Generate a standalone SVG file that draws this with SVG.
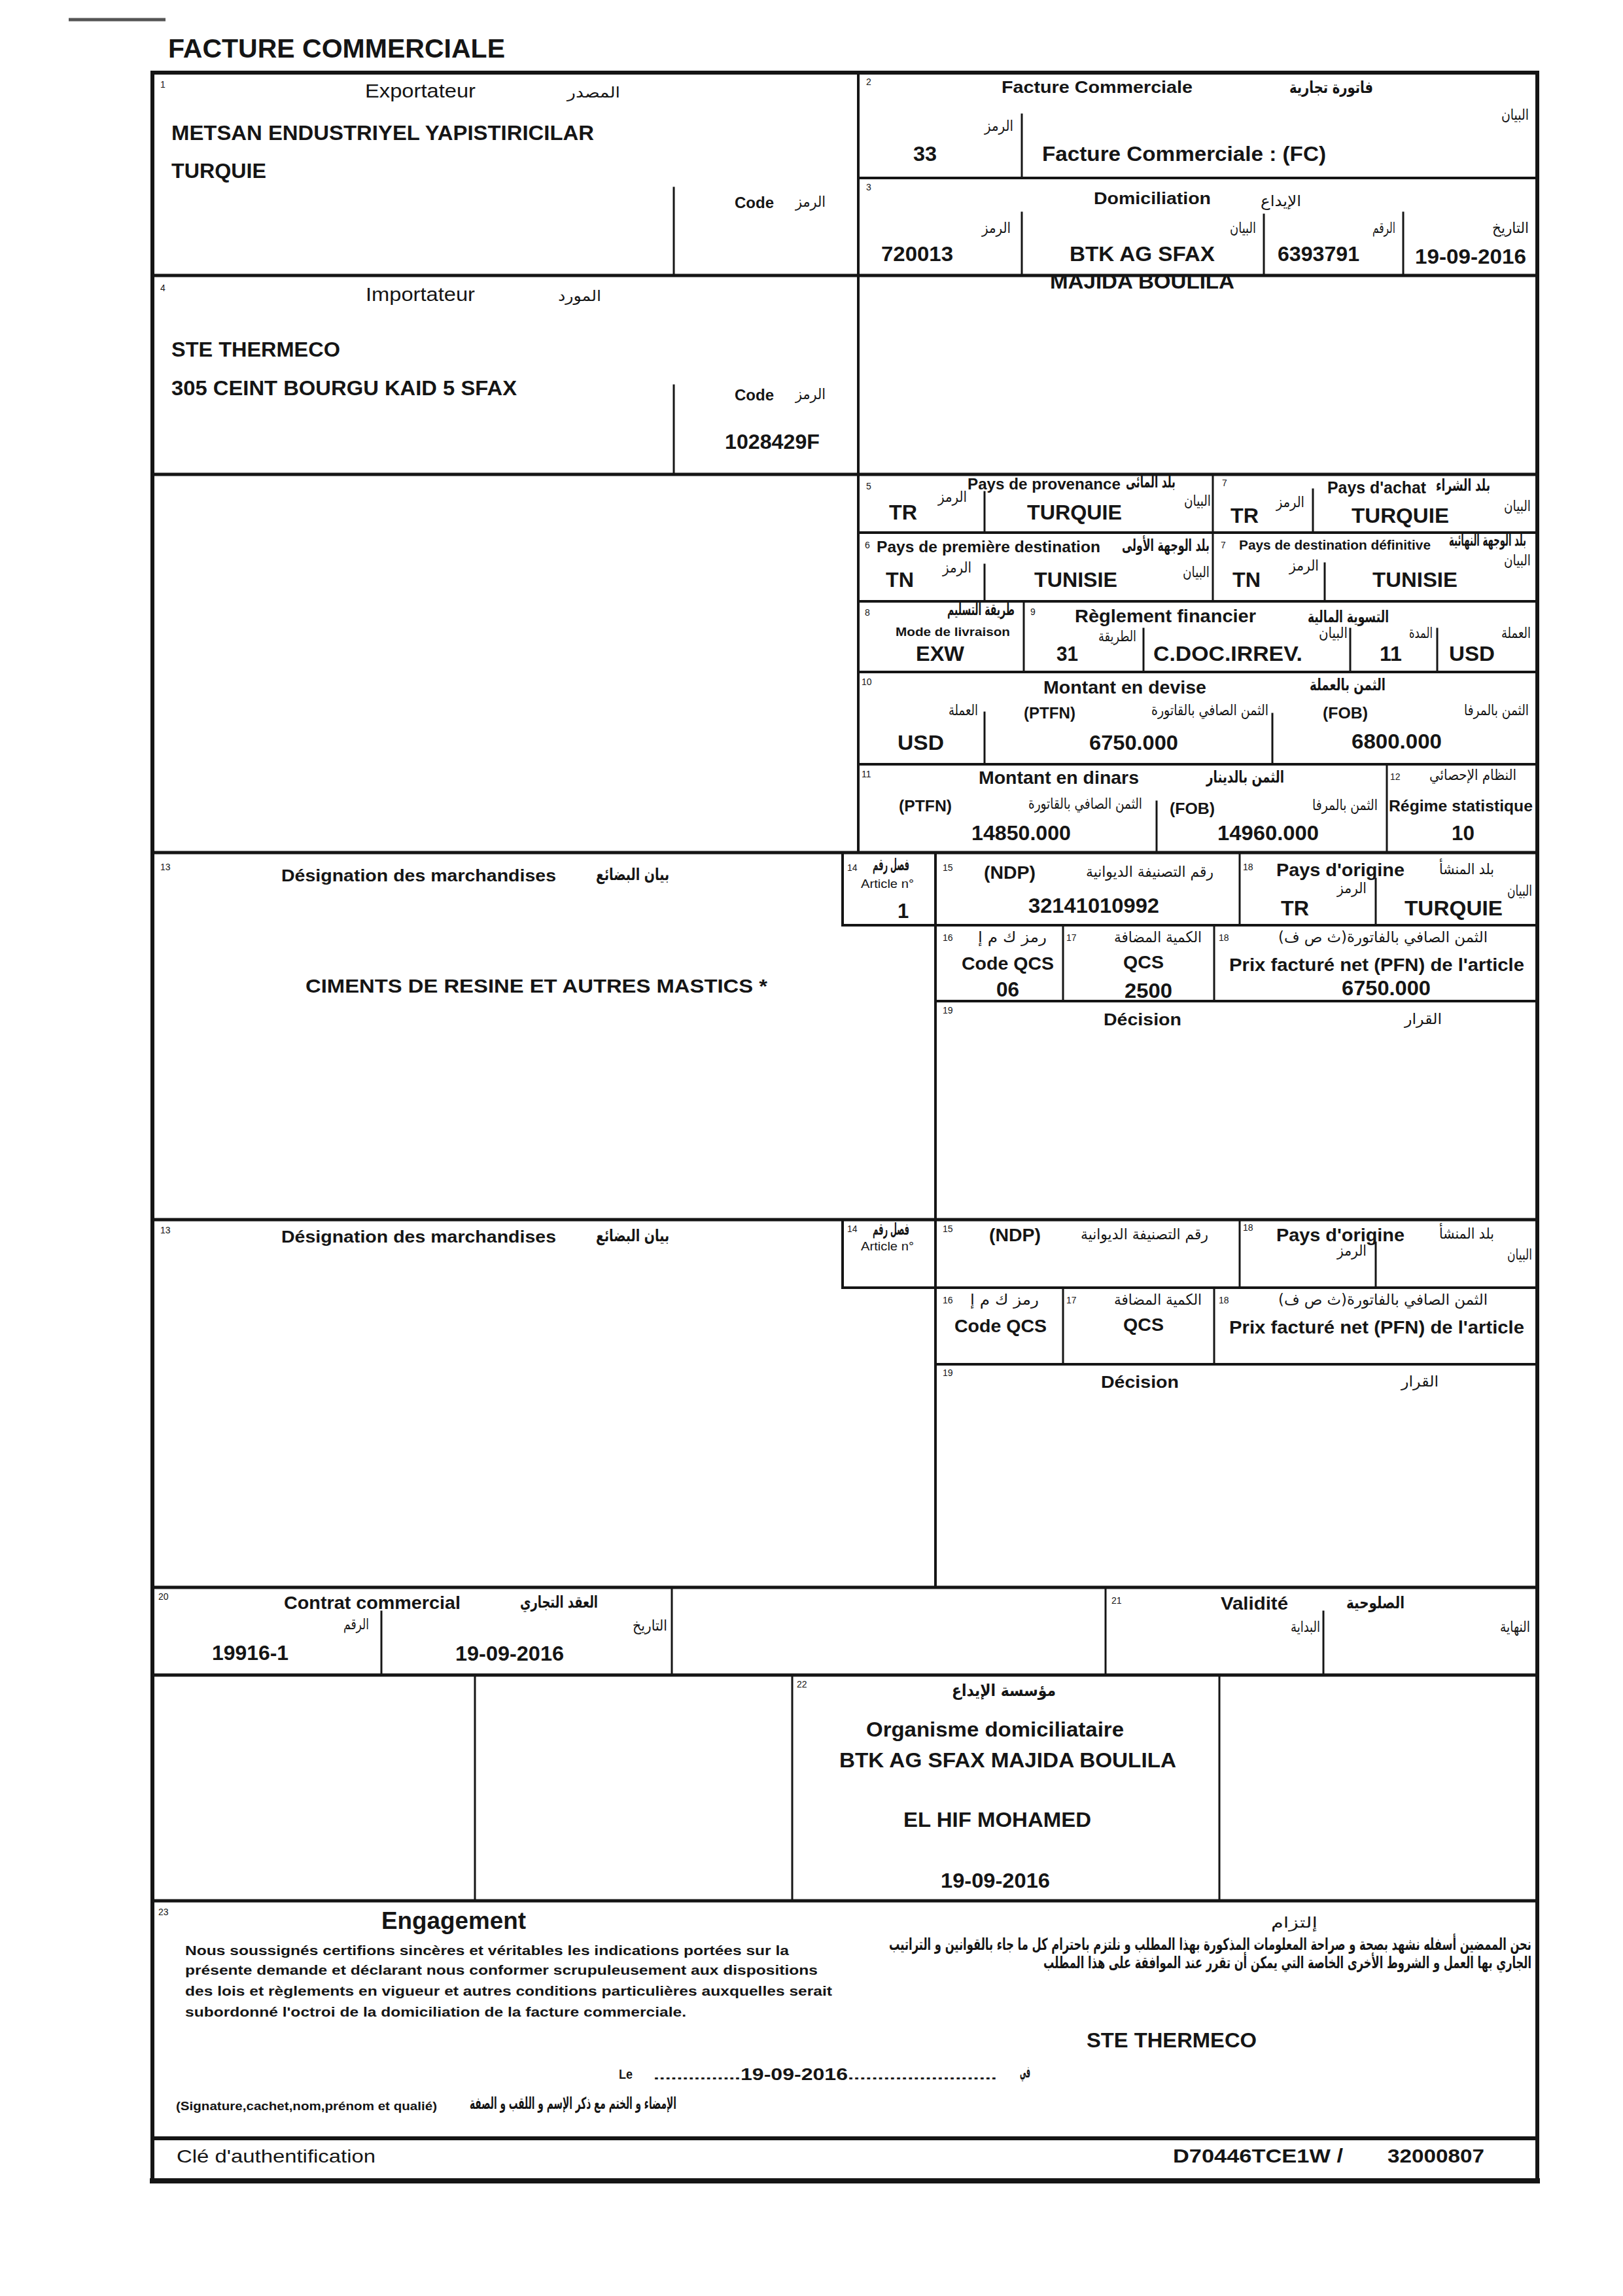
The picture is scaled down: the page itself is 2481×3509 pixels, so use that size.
<svg xmlns="http://www.w3.org/2000/svg" width="2481" height="3509" viewBox="0 0 2481 3509">
<style>
.ln{stroke:#151515;fill:none;stroke-linecap:square}
.w8{stroke-width:8}.w6{stroke-width:6}.w5{stroke-width:5}.w4{stroke-width:4}.w3{stroke-width:3}
text{font-family:"Liberation Sans",Arial,sans-serif;fill:#151515}
.b{font-weight:bold}
.n{font-size:14px}
.v{font-size:31px;font-weight:bold}
.lb{font-size:26px;font-weight:bold}
.ar{font-family:"DejaVu Sans","Noto Sans",sans-serif;text-anchor:end;font-size:23px}
.arb{font-family:"DejaVu Sans","Noto Sans",sans-serif;text-anchor:end;font-size:25px;font-weight:bold}
</style>
<rect width="2481" height="3509" fill="#ffffff"/>
<line x1="105" y1="30" x2="253" y2="30" stroke="#555" stroke-width="5"/>
<text x="257" y="88" class="b" font-size="40" textLength="515" lengthAdjust="spacingAndGlyphs">FACTURE COMMERCIALE</text>

<g id="rules">
<rect x="233" y="111" width="2117" height="3222" class="ln w6"/>
<line x1="233" y1="3333" x2="2350" y2="3333" class="ln w8"/>
<line x1="1312" y1="111" x2="1312" y2="1303" class="ln w4"/>
<line x1="233" y1="421" x2="2350" y2="421" class="ln w5"/>
<line x1="233" y1="725" x2="2350" y2="725" class="ln w5"/>
<line x1="1030" y1="287" x2="1030" y2="421" class="ln w3"/>
<line x1="1030" y1="589" x2="1030" y2="725" class="ln w3"/>
<line x1="1312" y1="272" x2="2350" y2="272" class="ln w4"/>
<line x1="1562" y1="175" x2="1562" y2="272" class="ln w3"/>
<line x1="1562" y1="325" x2="1562" y2="421" class="ln w3"/>
<line x1="1932" y1="328" x2="1932" y2="421" class="ln w3"/>
<line x1="2145" y1="325" x2="2145" y2="421" class="ln w3"/>
<line x1="1854" y1="725" x2="1854" y2="919" class="ln w3"/>
<line x1="1505" y1="752" x2="1505" y2="814" class="ln w3"/>
<line x1="2007" y1="748" x2="2007" y2="814" class="ln w3"/>
<line x1="1312" y1="814" x2="2350" y2="814" class="ln w4"/>
<line x1="1505" y1="863" x2="1505" y2="919" class="ln w3"/>
<line x1="2025" y1="861" x2="2025" y2="919" class="ln w3"/>
<line x1="1312" y1="919" x2="2350" y2="919" class="ln w4"/>
<line x1="1565" y1="919" x2="1565" y2="1027" class="ln w3"/>
<line x1="1748" y1="961" x2="1748" y2="1027" class="ln w3"/>
<line x1="2064" y1="961" x2="2064" y2="1027" class="ln w3"/>
<line x1="2197" y1="961" x2="2197" y2="1027" class="ln w3"/>
<line x1="1312" y1="1027" x2="2350" y2="1027" class="ln w4"/>
<line x1="1505" y1="1089" x2="1505" y2="1168" class="ln w3"/>
<line x1="1945" y1="1091" x2="1945" y2="1168" class="ln w3"/>
<line x1="1312" y1="1168" x2="2350" y2="1168" class="ln w4"/>
<line x1="2120" y1="1168" x2="2120" y2="1303" class="ln w3"/>
<line x1="1768" y1="1225" x2="1768" y2="1303" class="ln w3"/>
<line x1="233" y1="1303" x2="2350" y2="1303" class="ln w5"/>
<line x1="1288" y1="1303" x2="1288" y2="1414" class="ln w4"/>
<line x1="1430" y1="1303" x2="1430" y2="2426" class="ln w4"/>
<line x1="1288" y1="1414" x2="2350" y2="1414" class="ln w4"/>
<line x1="1895" y1="1303" x2="1895" y2="1414" class="ln w3"/>
<line x1="2103" y1="1343" x2="2103" y2="1414" class="ln w3"/>
<line x1="1625" y1="1414" x2="1625" y2="1530" class="ln w3"/>
<line x1="1856" y1="1414" x2="1856" y2="1530" class="ln w3"/>
<line x1="1430" y1="1530" x2="2350" y2="1530" class="ln w4"/>
<line x1="233" y1="1864" x2="2350" y2="1864" class="ln w5"/>
<line x1="1288" y1="1864" x2="1288" y2="1968" class="ln w4"/>
<line x1="1288" y1="1968" x2="2350" y2="1968" class="ln w4"/>
<line x1="1895" y1="1864" x2="1895" y2="1968" class="ln w3"/>
<line x1="2103" y1="1899" x2="2103" y2="1968" class="ln w3"/>
<line x1="1625" y1="1968" x2="1625" y2="2085" class="ln w3"/>
<line x1="1856" y1="1968" x2="1856" y2="2085" class="ln w3"/>
<line x1="1430" y1="2085" x2="2350" y2="2085" class="ln w4"/>
<line x1="233" y1="2426" x2="2350" y2="2426" class="ln w5"/>
<line x1="583" y1="2463" x2="583" y2="2560" class="ln w3"/>
<line x1="1027" y1="2426" x2="1027" y2="2560" class="ln w3"/>
<line x1="1690" y1="2426" x2="1690" y2="2560" class="ln w3"/>
<line x1="2023" y1="2463" x2="2023" y2="2560" class="ln w3"/>
<line x1="233" y1="2560" x2="2350" y2="2560" class="ln w5"/>
<line x1="726" y1="2560" x2="726" y2="2905" class="ln w3"/>
<line x1="1211" y1="2560" x2="1211" y2="2905" class="ln w3"/>
<line x1="1864" y1="2560" x2="1864" y2="2905" class="ln w3"/>
<line x1="233" y1="2905" x2="2350" y2="2905" class="ln w5"/>
<line x1="233" y1="3268" x2="2350" y2="3268" class="ln w6"/>
</g>

<g id="box1">
<text x="245" y="134" class="n">1</text>
<text x="558" y="149" font-size="30" textLength="169" lengthAdjust="spacingAndGlyphs">Exportateur</text>
<text x="948" y="149" class="ar" font-size="32" textLength="81" lengthAdjust="spacingAndGlyphs">المصدر</text>
<text x="262" y="214" class="v" textLength="646" lengthAdjust="spacingAndGlyphs">METSAN ENDUSTRIYEL YAPISTIRICILAR</text>
<text x="262" y="272" class="v" textLength="145" lengthAdjust="spacingAndGlyphs">TURQUIE</text>
<text x="1123" y="318" class="b" font-size="23" textLength="60" lengthAdjust="spacingAndGlyphs">Code</text>
<text x="1262" y="316" class="ar" textLength="46" lengthAdjust="spacingAndGlyphs">الرمز</text>
</g>

<g id="box4">
<text x="245" y="445" class="n">4</text>
<text x="559" y="460" font-size="30" textLength="167" lengthAdjust="spacingAndGlyphs">Importateur</text>
<text x="919" y="460" class="ar" font-size="32" textLength="66" lengthAdjust="spacingAndGlyphs">المورد</text>
<text x="262" y="545" class="v" textLength="258" lengthAdjust="spacingAndGlyphs">STE THERMECO</text>
<text x="262" y="604" class="v" textLength="528" lengthAdjust="spacingAndGlyphs">305 CEINT BOURGU KAID 5 SFAX</text>
<text x="1123" y="612" class="b" font-size="23" textLength="60" lengthAdjust="spacingAndGlyphs">Code</text>
<text x="1262" y="610" class="ar" textLength="46" lengthAdjust="spacingAndGlyphs">الرمز</text>
<text x="1108" y="686" class="v" textLength="145" lengthAdjust="spacingAndGlyphs">1028429F</text>
</g>

<g id="box2">
<text x="1324" y="130" class="n">2</text>
<text x="1531" y="142" class="lb" textLength="292" lengthAdjust="spacingAndGlyphs">Facture Commerciale</text>
<text x="2099" y="142" class="arb" font-size="28" textLength="128" lengthAdjust="spacingAndGlyphs">فاتورة تجارية</text>
<text x="2337" y="183" class="ar" textLength="42" lengthAdjust="spacingAndGlyphs">البيان</text>
<text x="1549" y="200" class="ar" textLength="44" lengthAdjust="spacingAndGlyphs">الرمز</text>
<text x="1396" y="246" class="v" textLength="36" lengthAdjust="spacingAndGlyphs">33</text>
<text x="1593" y="246" class="v" textLength="434" lengthAdjust="spacingAndGlyphs">Facture Commerciale : (FC)</text>
</g>

<g id="box3">
<text x="1324" y="291" class="n">3</text>
<text x="1672" y="312" class="lb" textLength="179" lengthAdjust="spacingAndGlyphs">Domiciliation</text>
<text x="1989" y="315" class="ar" font-size="28" textLength="62" lengthAdjust="spacingAndGlyphs">الإيداع</text>
<text x="1545" y="356" class="ar" textLength="44" lengthAdjust="spacingAndGlyphs">الرمز</text>
<text x="1920" y="356" class="ar" textLength="40" lengthAdjust="spacingAndGlyphs">البيان</text>
<text x="2133" y="356" class="ar" textLength="35" lengthAdjust="spacingAndGlyphs">الرقم</text>
<text x="2337" y="356" class="ar" textLength="56" lengthAdjust="spacingAndGlyphs">التاريخ</text>
<text x="1347" y="399" class="v" textLength="110" lengthAdjust="spacingAndGlyphs">720013</text>
<text x="1635" y="399" class="v" textLength="222" lengthAdjust="spacingAndGlyphs">BTK AG SFAX</text>
<text x="1953" y="399" class="v" textLength="125" lengthAdjust="spacingAndGlyphs">6393791</text>
<text x="2163" y="403" class="v" textLength="170" lengthAdjust="spacingAndGlyphs">19-09-2016</text>
<text x="1605" y="441" class="v" textLength="282" lengthAdjust="spacingAndGlyphs">MAJIDA BOULILA</text>
</g>

<g id="box5">
<text x="1324" y="748" class="n">5</text>
<text x="1479" y="748" class="b" font-size="24" textLength="234" lengthAdjust="spacingAndGlyphs">Pays de provenance</text>
<text x="1797" y="745" class="arb" font-size="21" textLength="76" lengthAdjust="spacingAndGlyphs">بلد المائى</text>
<text x="1478" y="767" class="ar" textLength="44" lengthAdjust="spacingAndGlyphs">الرمز</text>
<text x="1851" y="773" class="ar" textLength="41" lengthAdjust="spacingAndGlyphs">البيان</text>
<text x="1359" y="794" class="v" textLength="43" lengthAdjust="spacingAndGlyphs">TR</text>
<text x="1570" y="794" class="v" textLength="145" lengthAdjust="spacingAndGlyphs">TURQUIE</text>
</g>

<g id="box7a">
<text x="1868" y="743" class="n">7</text>
<text x="2029" y="754" class="b" font-size="25" textLength="151" lengthAdjust="spacingAndGlyphs">Pays d'achat</text>
<text x="2278" y="750" class="arb" font-size="21" textLength="83" lengthAdjust="spacingAndGlyphs">بلد الشراء</text>
<text x="1994" y="775" class="ar" textLength="43" lengthAdjust="spacingAndGlyphs">الرمز</text>
<text x="2340" y="781" class="ar" textLength="41" lengthAdjust="spacingAndGlyphs">البيان</text>
<text x="1881" y="799" class="v" textLength="43" lengthAdjust="spacingAndGlyphs">TR</text>
<text x="2066" y="799" class="v" textLength="149" lengthAdjust="spacingAndGlyphs">TURQUIE</text>
</g>

<g id="box6">
<text x="1322" y="838" class="n">6</text>
<text x="1340" y="844" class="b" font-size="24" textLength="342" lengthAdjust="spacingAndGlyphs">Pays de première destination</text>
<text x="1849" y="842" class="arb" font-size="21" textLength="134" lengthAdjust="spacingAndGlyphs">بلد الوجهة الأولى</text>
<text x="1485" y="875" class="ar" textLength="44" lengthAdjust="spacingAndGlyphs">الرمز</text>
<text x="1849" y="882" class="ar" textLength="41" lengthAdjust="spacingAndGlyphs">البيان</text>
<text x="1354" y="897" class="v" textLength="43" lengthAdjust="spacingAndGlyphs">TN</text>
<text x="1581" y="897" class="v" textLength="127" lengthAdjust="spacingAndGlyphs">TUNISIE</text>
</g>

<g id="box7b">
<text x="1866" y="838" class="n">7</text>
<text x="1894" y="840" class="b" font-size="20" textLength="293" lengthAdjust="spacingAndGlyphs">Pays de destination définitive</text>
<text x="2333" y="834" class="arb" font-size="18" textLength="118" lengthAdjust="spacingAndGlyphs">بلد الوجهة النهائية</text>
<text x="2340" y="864" class="ar" textLength="41" lengthAdjust="spacingAndGlyphs">البيان</text>
<text x="2016" y="872" class="ar" textLength="45" lengthAdjust="spacingAndGlyphs">الرمز</text>
<text x="1884" y="897" class="v" textLength="43" lengthAdjust="spacingAndGlyphs">TN</text>
<text x="2098" y="897" class="v" textLength="130" lengthAdjust="spacingAndGlyphs">TUNISIE</text>
</g>

<g id="box8">
<text x="1322" y="941" class="n">8</text>
<text x="1551" y="940" class="arb" font-size="21" textLength="103" lengthAdjust="spacingAndGlyphs">طريقة التسليم</text>
<text x="1369" y="972" class="b" font-size="19" textLength="175" lengthAdjust="spacingAndGlyphs">Mode de livraison</text>
<text x="1400" y="1010" class="v" textLength="74" lengthAdjust="spacingAndGlyphs">EXW</text>
</g>

<g id="box9">
<text x="1575" y="940" class="n">9</text>
<text x="1643" y="951" class="b" font-size="28" textLength="277" lengthAdjust="spacingAndGlyphs">Règlement financier</text>
<text x="2123" y="951" class="arb" font-size="27" textLength="124" lengthAdjust="spacingAndGlyphs">التسوية المالية</text>
<text x="1737" y="980" class="ar" textLength="58" lengthAdjust="spacingAndGlyphs">الطريقة</text>
<text x="2060" y="975" class="ar" textLength="44" lengthAdjust="spacingAndGlyphs">البيان</text>
<text x="2190" y="975" class="ar" textLength="36" lengthAdjust="spacingAndGlyphs">المدة</text>
<text x="2340" y="975" class="ar" textLength="45" lengthAdjust="spacingAndGlyphs">العملة</text>
<text x="1615" y="1010" class="v" textLength="33" lengthAdjust="spacingAndGlyphs">31</text>
<text x="1763" y="1010" class="v" textLength="228" lengthAdjust="spacingAndGlyphs">C.DOC.IRREV.</text>
<text x="2109" y="1010" class="v" textLength="34" lengthAdjust="spacingAndGlyphs">11</text>
<text x="2215" y="1010" class="v" textLength="70" lengthAdjust="spacingAndGlyphs">USD</text>
</g>

<g id="box10">
<text x="1317" y="1047" class="n">10</text>
<text x="1595" y="1060" class="b" font-size="28" textLength="249" lengthAdjust="spacingAndGlyphs">Montant en devise</text>
<text x="2118" y="1055" class="arb" font-size="27" textLength="116" lengthAdjust="spacingAndGlyphs">الثمن بالعملة</text>
<text x="1495" y="1093" class="ar" textLength="45" lengthAdjust="spacingAndGlyphs">العملة</text>
<text x="1565" y="1098" class="b" font-size="24" textLength="79" lengthAdjust="spacingAndGlyphs">(PTFN)</text>
<text x="1939" y="1093" class="ar" textLength="179" lengthAdjust="spacingAndGlyphs">الثمن الصافي بالقاتورة</text>
<text x="2022" y="1098" class="b" font-size="24" textLength="69" lengthAdjust="spacingAndGlyphs">(FOB)</text>
<text x="2337" y="1093" class="ar" textLength="99" lengthAdjust="spacingAndGlyphs">الثمن بالمرفا</text>
<text x="1372" y="1146" class="v" textLength="71" lengthAdjust="spacingAndGlyphs">USD</text>
<text x="1665" y="1146" class="v" textLength="136" lengthAdjust="spacingAndGlyphs">6750.000</text>
<text x="2066" y="1144" class="v" textLength="138" lengthAdjust="spacingAndGlyphs">6800.000</text>
</g>

<g id="box11">
<text x="1317" y="1188" class="n">11</text>
<text x="1496" y="1198" class="b" font-size="28" textLength="245" lengthAdjust="spacingAndGlyphs">Montant en dinars</text>
<text x="1963" y="1196" class="arb" font-size="27" textLength="119" lengthAdjust="spacingAndGlyphs">الثمن بالدينار</text>
<text x="1374" y="1240" class="b" font-size="24" textLength="81" lengthAdjust="spacingAndGlyphs">(PTFN)</text>
<text x="1746" y="1236" class="ar" textLength="174" lengthAdjust="spacingAndGlyphs">الثمن الصافي بالقاتورة</text>
<text x="1788" y="1244" class="b" font-size="24" textLength="69" lengthAdjust="spacingAndGlyphs">(FOB)</text>
<text x="2106" y="1238" class="ar" textLength="100" lengthAdjust="spacingAndGlyphs">الثمن بالمرفا</text>
<text x="1485" y="1284" class="v" textLength="152" lengthAdjust="spacingAndGlyphs">14850.000</text>
<text x="1861" y="1284" class="v" textLength="155" lengthAdjust="spacingAndGlyphs">14960.000</text>
</g>

<g id="box12">
<text x="2125" y="1192" class="n">12</text>
<text x="2318" y="1192" class="ar" textLength="133" lengthAdjust="spacingAndGlyphs">النظام الإحصائي</text>
<text x="2123" y="1240" class="b" font-size="24" textLength="220" lengthAdjust="spacingAndGlyphs">Régime statistique</text>
<text x="2219" y="1284" class="v" textLength="35" lengthAdjust="spacingAndGlyphs">10</text>
</g>

<g id="box13a">
<text x="245" y="1330" class="n">13</text>
<text x="430" y="1347" class="lb" textLength="420" lengthAdjust="spacingAndGlyphs">Désignation des marchandises</text>
<text x="1023" y="1345" class="arb" font-size="26" textLength="112" lengthAdjust="spacingAndGlyphs">بيان البضائع</text>
<text x="467" y="1517" class="b" font-size="30" textLength="706" lengthAdjust="spacingAndGlyphs">CIMENTS DE RESINE ET AUTRES MASTICS *</text>
</g>

<g id="box14a">
<text x="1295" y="1331" class="n">14</text>
<text x="1390" y="1330" class="arb" font-size="18" textLength="56" lengthAdjust="spacingAndGlyphs">فصل رقم</text>
<text x="1316" y="1357" font-size="19" textLength="81" lengthAdjust="spacingAndGlyphs">Article n°</text>
<text x="1372" y="1403" class="v">1</text>
</g>

<g id="box15a">
<text x="1441" y="1331" class="n">15</text>
<text x="1504" y="1343" class="b" font-size="27" textLength="79" lengthAdjust="spacingAndGlyphs">(NDP)</text>
<text x="1855" y="1340" class="ar" font-size="25" textLength="195" lengthAdjust="spacingAndGlyphs">رقم التصنيفة الديوانية</text>
<text x="1572" y="1395" class="v" textLength="200" lengthAdjust="spacingAndGlyphs">32141010992</text>
</g>

<g id="box18a">
<text x="1900" y="1330" class="n">18</text>
<text x="1951" y="1339" class="b" font-size="28" textLength="196" lengthAdjust="spacingAndGlyphs">Pays d'origine</text>
<text x="2284" y="1336" class="ar" font-size="26" textLength="84" lengthAdjust="spacingAndGlyphs">بلد المنشأ</text>
<text x="2089" y="1365" class="ar" textLength="45" lengthAdjust="spacingAndGlyphs">الرمز</text>
<text x="2342" y="1369" class="ar" textLength="38" lengthAdjust="spacingAndGlyphs">البيان</text>
<text x="1958" y="1399" class="v" textLength="43" lengthAdjust="spacingAndGlyphs">TR</text>
<text x="2147" y="1399" class="v" textLength="150" lengthAdjust="spacingAndGlyphs">TURQUIE</text>
</g>

<g id="box16a">
<text x="1441" y="1438" class="n">16</text>
<text x="1600" y="1440" class="ar" font-size="25" textLength="105" lengthAdjust="spacingAndGlyphs">رمز ك م إ</text>
<text x="1470" y="1482" class="b" font-size="28" textLength="141" lengthAdjust="spacingAndGlyphs">Code QCS</text>
<text x="1523" y="1523" class="v" textLength="35" lengthAdjust="spacingAndGlyphs">06</text>
</g>

<g id="box17a">
<text x="1630" y="1438" class="n">17</text>
<text x="1837" y="1440" class="ar" font-size="25" textLength="134" lengthAdjust="spacingAndGlyphs">الكمية المضافة</text>
<text x="1717" y="1480" class="b" font-size="28" textLength="62" lengthAdjust="spacingAndGlyphs">QCS</text>
<text x="1719" y="1525" class="v" textLength="73" lengthAdjust="spacingAndGlyphs">2500</text>
</g>

<g id="box18pa">
<text x="1863" y="1438" class="n">18</text>
<text x="2274" y="1440" class="ar" font-size="25" textLength="320" lengthAdjust="spacingAndGlyphs">الثمن الصافي بالفاتورة(ث ص ف)&#x200F;</text>
<text x="1879" y="1484" class="b" font-size="28" textLength="451" lengthAdjust="spacingAndGlyphs">Prix facturé net (PFN) de l'article</text>
<text x="2051" y="1521" class="v" textLength="136" lengthAdjust="spacingAndGlyphs">6750.000</text>
</g>

<g id="box19a">
<text x="1441" y="1549" class="n">19</text>
<text x="1687" y="1567" class="lb" textLength="119" lengthAdjust="spacingAndGlyphs">Décision</text>
<text x="2204" y="1565" class="ar" font-size="26" textLength="57" lengthAdjust="spacingAndGlyphs">القرار</text>
</g>

<g id="box13b">
<text x="245" y="1885" class="n">13</text>
<text x="430" y="1899" class="lb" textLength="420" lengthAdjust="spacingAndGlyphs">Désignation des marchandises</text>
<text x="1023" y="1897" class="arb" font-size="26" textLength="112" lengthAdjust="spacingAndGlyphs">بيان البضائع</text>
</g>

<g id="box14b">
<text x="1295" y="1883" class="n">14</text>
<text x="1390" y="1887" class="arb" font-size="18" textLength="56" lengthAdjust="spacingAndGlyphs">فصل رقم</text>
<text x="1316" y="1911" font-size="19" textLength="81" lengthAdjust="spacingAndGlyphs">Article n°</text>
</g>

<g id="box15b">
<text x="1441" y="1883" class="n">15</text>
<text x="1512" y="1897" class="b" font-size="27" textLength="79" lengthAdjust="spacingAndGlyphs">(NDP)</text>
<text x="1847" y="1894" class="ar" font-size="25" textLength="195" lengthAdjust="spacingAndGlyphs">رقم التصنيفة الديوانية</text>
</g>

<g id="box18b">
<text x="1900" y="1881" class="n">18</text>
<text x="1951" y="1897" class="b" font-size="28" textLength="196" lengthAdjust="spacingAndGlyphs">Pays d'origine</text>
<text x="2284" y="1893" class="ar" font-size="26" textLength="84" lengthAdjust="spacingAndGlyphs">بلد المنشأ</text>
<text x="2089" y="1919" class="ar" textLength="45" lengthAdjust="spacingAndGlyphs">الرمز</text>
<text x="2342" y="1925" class="ar" textLength="38" lengthAdjust="spacingAndGlyphs">البيان</text>
</g>

<g id="box16b">
<text x="1441" y="1992" class="n">16</text>
<text x="1588" y="1994" class="ar" font-size="25" textLength="105" lengthAdjust="spacingAndGlyphs">رمز ك م إ</text>
<text x="1459" y="2036" class="b" font-size="28" textLength="141" lengthAdjust="spacingAndGlyphs">Code QCS</text>
</g>

<g id="box17b">
<text x="1630" y="1992" class="n">17</text>
<text x="1837" y="1994" class="ar" font-size="25" textLength="134" lengthAdjust="spacingAndGlyphs">الكمية المضافة</text>
<text x="1717" y="2034" class="b" font-size="28" textLength="62" lengthAdjust="spacingAndGlyphs">QCS</text>
</g>

<g id="box18pb">
<text x="1863" y="1992" class="n">18</text>
<text x="2274" y="1994" class="ar" font-size="25" textLength="320" lengthAdjust="spacingAndGlyphs">الثمن الصافي بالفاتورة(ث ص ف)&#x200F;</text>
<text x="1879" y="2038" class="b" font-size="28" textLength="451" lengthAdjust="spacingAndGlyphs">Prix facturé net (PFN) de l'article</text>
</g>

<g id="box19b">
<text x="1441" y="2103" class="n">19</text>
<text x="1683" y="2121" class="lb" textLength="119" lengthAdjust="spacingAndGlyphs">Décision</text>
<text x="2199" y="2119" class="ar" font-size="26" textLength="57" lengthAdjust="spacingAndGlyphs">القرار</text>
</g>

<g id="box20">
<text x="242" y="2445" class="n">20</text>
<text x="434" y="2459" class="b" font-size="28" textLength="270" lengthAdjust="spacingAndGlyphs">Contrat commercial</text>
<text x="914" y="2457" class="arb" font-size="27" textLength="119" lengthAdjust="spacingAndGlyphs">العقد التجاري</text>
<text x="564" y="2490" class="ar" textLength="39" lengthAdjust="spacingAndGlyphs">الرقم</text>
<text x="1020" y="2492" class="ar" textLength="53" lengthAdjust="spacingAndGlyphs">التاريخ</text>
<text x="324" y="2537" class="v" textLength="117" lengthAdjust="spacingAndGlyphs">19916-1</text>
<text x="696" y="2538" class="v" textLength="166" lengthAdjust="spacingAndGlyphs">19-09-2016</text>
</g>

<g id="box21">
<text x="1699" y="2451" class="n">21</text>
<text x="1866" y="2460" class="b" font-size="28" textLength="103" lengthAdjust="spacingAndGlyphs">Validité</text>
<text x="2147" y="2458" class="arb" font-size="27" textLength="89" lengthAdjust="spacingAndGlyphs">الصلوحية</text>
<text x="2018" y="2494" class="ar" textLength="45" lengthAdjust="spacingAndGlyphs">البداية</text>
<text x="2339" y="2494" class="ar" textLength="46" lengthAdjust="spacingAndGlyphs">النهاية</text>
</g>

<g id="box22">
<text x="1218" y="2579" class="n">22</text>
<text x="1614" y="2592" class="arb" font-size="32" textLength="159" lengthAdjust="spacingAndGlyphs">مؤسسة الإيداع</text>
<text x="1324" y="2654" class="v" textLength="394" lengthAdjust="spacingAndGlyphs">Organisme domiciliataire</text>
<text x="1283" y="2701" class="v" textLength="515" lengthAdjust="spacingAndGlyphs">BTK AG SFAX MAJIDA BOULILA</text>
<text x="1381" y="2792" class="v" textLength="287" lengthAdjust="spacingAndGlyphs">EL HIF MOHAMED</text>
<text x="1438" y="2885" class="v" textLength="167" lengthAdjust="spacingAndGlyphs">19-09-2016</text>
</g>

<g id="box23">
<text x="242" y="2927" class="n">23</text>
<text x="583" y="2948" class="b" font-size="37" textLength="221" lengthAdjust="spacingAndGlyphs">Engagement</text>
<text x="2014" y="2946" class="ar" font-size="40" textLength="71" lengthAdjust="spacingAndGlyphs">إلتزام</text>
<text x="283" y="2988" class="b" font-size="20" textLength="923" lengthAdjust="spacingAndGlyphs">Nous soussignés certifions sincères et véritables les indications portées sur la</text>
<text x="283" y="3018" class="b" font-size="20" textLength="967" lengthAdjust="spacingAndGlyphs">présente demande et déclarant nous conformer scrupuleusement aux dispositions</text>
<text x="283" y="3050" class="b" font-size="20" textLength="989" lengthAdjust="spacingAndGlyphs">des lois et règlements en vigueur et autres conditions particulières auxquelles serait</text>
<text x="283" y="3082" class="b" font-size="20" textLength="766" lengthAdjust="spacingAndGlyphs">subordonné l'octroi de la domiciliation de la facture commerciale.</text>
<text x="2341" y="2980" class="arb" font-size="21" textLength="982" lengthAdjust="spacingAndGlyphs">نحن الممضين أسفله نشهد بصحة و صراحة المعلومات المذكورة بهذا المطلب و نلتزم باحترام كل ما جاء بالقوانين و التراتيب</text>
<text x="2341" y="3008" class="arb" font-size="21" textLength="746" lengthAdjust="spacingAndGlyphs">الجاري بها العمل و الشروط الأخرى الخاصة التي يمكن أن تقرر عند الموافقة على هذا المطلب</text>
<text x="1661" y="3129" class="v" textLength="260" lengthAdjust="spacingAndGlyphs">STE THERMECO</text>
<text x="946" y="3177" class="b" font-size="20" textLength="21" lengthAdjust="spacingAndGlyphs">Le</text>
<text x="999" y="3178" class="b" font-size="20" textLength="133" lengthAdjust="spacingAndGlyphs">...............</text>
<text x="1132" y="3179" class="b" font-size="26" textLength="164" lengthAdjust="spacingAndGlyphs">19-09-2016</text>
<text x="1296" y="3178" class="b" font-size="20" textLength="228" lengthAdjust="spacingAndGlyphs">.........................</text>
<text x="1575" y="3175" class="arb" font-size="21" textLength="16" lengthAdjust="spacingAndGlyphs">في</text>
<text x="269" y="3225" class="b" font-size="18" textLength="399" lengthAdjust="spacingAndGlyphs">(Signature,cachet,nom,prénom et qualié)</text>
<text x="1034" y="3223" class="arb" font-size="19" textLength="316" lengthAdjust="spacingAndGlyphs">الإمضاء و الختم مع ذكر الإسم و اللقب و الصفة</text>
</g>

<g id="auth">
<text x="270" y="3305" font-size="28" textLength="304" lengthAdjust="spacingAndGlyphs">Clé d'authentification</text>
<text x="1793" y="3305" class="b" font-size="30" textLength="260" lengthAdjust="spacingAndGlyphs">D70446TCE1W /</text>
<text x="2121" y="3305" class="b" font-size="30" textLength="148" lengthAdjust="spacingAndGlyphs">32000807</text>
</g>
</svg>
